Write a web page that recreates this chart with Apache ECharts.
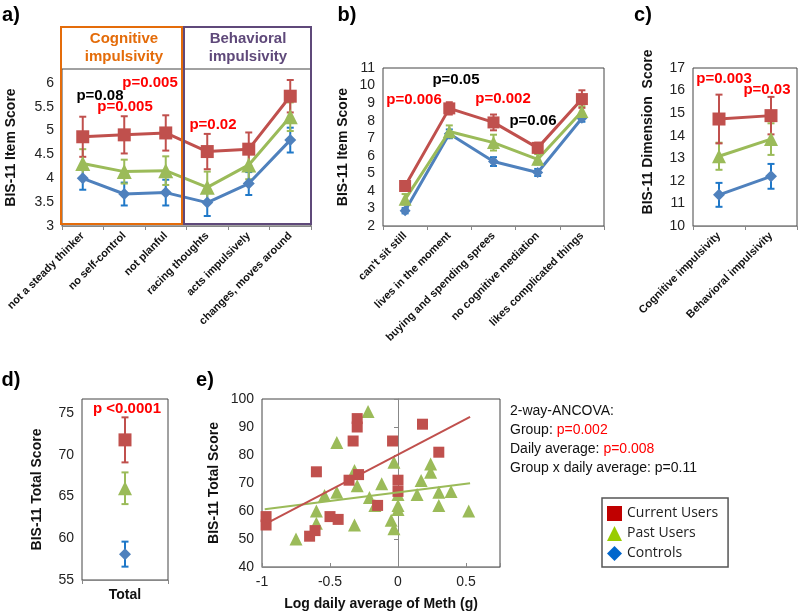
<!DOCTYPE html>
<html>
<head>
<meta charset="utf-8">
<script src="https://cdn.jsdelivr.net/npm/echarts@6/dist/echarts.min.js"></script>
<style>
  html, body { margin: 0; padding: 0; background: #fff; }
  #chart { width: 800px; height: 612px; }
</style>
</head>
<body>
<div id="chart"></div>
<script>
// panel a - BIS-11 items (cognitive / behavioral)
const catsA = ['not a steady thinker', 'no self-control', 'not planful', 'racing thoughts', 'acts impulsively', 'changes, moves around'];
const curA = [4.87, 4.91, 4.95, 4.56, 4.61, 5.72];
const curAErr = [0.42, 0.39, 0.37, 0.37, 0.35, 0.34];
const pastA = [4.31, 4.14, 4.16, 3.81, 4.28, 5.29];
const pastAErr = [0.30, 0.25, 0.30, 0.33, 0.30, 0.30];
const ctrlA = [4.00, 3.67, 3.70, 3.49, 3.89, 4.80];
const ctrlAErr = [0.24, 0.24, 0.27, 0.28, 0.24, 0.26];

// panel b - other items
const catsB = ["can't sit still", 'lives in the moment', 'buying and spending sprees', 'no cognitive mediation', 'likes complicated things'];
const curB = [4.28, 8.70, 7.90, 6.45, 9.23];
const curBErr = [0.20, 0.35, 0.45, 0.30, 0.50];
const pastB = [3.52, 7.38, 6.75, 5.80, 8.52];
const pastBErr = [0.30, 0.35, 0.45, 0.30, 0.30];
const ctrlB = [2.87, 7.25, 5.67, 5.05, 8.14];
const ctrlBErr = [0.15, 0.25, 0.25, 0.20, 0.20];

// panel c - dimension scores
const catsC = ['Cognitive impulsivity', 'Behavioral impulsivity'];
const curC = [14.74, 14.89];
const curCErr = [1.08, 0.83];
const pastC = [13.09, 13.85];
const pastCErr = [0.60, 0.70];
const ctrlC = [11.38, 12.20];
const ctrlCErr = [0.53, 0.55];

// panel d - total score
const catsD = ['Total'];
const curD = [71.8];
const curDErr = [2.7];
const pastD = [66.0];
const pastDErr = [1.9];
const ctrlD = [58.1];
const ctrlDErr = [1.5];

// panel e - total score vs log daily average of meth
const curE = [
  [-0.97, 58], [-0.97, 55], [-0.60, 74], [-0.65, 51], [-0.61, 53], [-0.50, 58],
  [-0.44, 57], [-0.36, 71], [-0.29, 73], [-0.33, 85], [-0.30, 93], [-0.30, 90],
  [-0.04, 85], [-0.15, 62], [0.00, 71], [0.00, 67], [0.18, 91], [0.30, 81]
];
const pastE = [
  [-0.75, 50], [-0.54, 65.5], [-0.60, 60], [-0.60, 55.6], [-0.45, 84.5], [-0.45, 66.7],
  [-0.32, 55], [-0.32, 74.5], [-0.30, 69], [-0.22, 95.5], [-0.21, 64.8], [-0.17, 62],
  [-0.12, 69.7], [-0.05, 56.7], [-0.03, 53.7], [-0.03, 77.4], [0.00, 65.9], [0.00, 62],
  [0.00, 60.5], [0.14, 65.9], [0.17, 70.9], [0.24, 76.8], [0.24, 73.8], [0.30, 66.7],
  [0.30, 62], [0.39, 67], [0.52, 60]
];
const curFit = [[-0.97, 55.5], [0.53, 93.6]];
const pastFit = [[-0.98, 60.6], [0.53, 69.9]];

const RED = '#C0504D', GREEN = '#9BBB59', BLUE = '#4F81BD';
const BLUE_ERR = '#1F78C8';
const FONT = 'Liberation Sans';

function errorBars(name, idx, means, errs, color, cap) {
  return {
    type: 'custom', name: name, xAxisIndex: idx, yAxisIndex: idx, z: 2,
    data: means.map((m, i) => [i, m - errs[i], m + errs[i]]),
    encode: { x: 0, y: [1, 2] },
    renderItem(params, api) {
      const lo = api.coord([api.value(0), api.value(1)]);
      const hi = api.coord([api.value(0), api.value(2)]);
      const style = { stroke: color, lineWidth: 2 };
      return {
        type: 'group',
        children: [
          { type: 'line', shape: { x1: lo[0], y1: lo[1], x2: hi[0], y2: hi[1] }, style: style },
          { type: 'line', shape: { x1: lo[0] - cap, y1: lo[1], x2: lo[0] + cap, y2: lo[1] }, style: style },
          { type: 'line', shape: { x1: hi[0] - cap, y1: hi[1], x2: hi[0] + cap, y2: hi[1] }, style: style }
        ]
      };
    }
  };
}

function groupLine(name, idx, values, symbol, size, color, z) {
  return {
    type: 'line', name: name, xAxisIndex: idx, yAxisIndex: idx, data: values,
    symbol: symbol, symbolSize: size, z: z,
    lineStyle: { color: color, width: 3 },
    itemStyle: { color: color, opacity: 1 }
  };
}

// one panel of three groups with error bars
function panelSeries(idx, cur, curErr, past, pastErr, ctrl, ctrlErr, sizes) {
  return [
    errorBars('Controls', idx, ctrl, ctrlErr, BLUE_ERR, 3.5),
    groupLine('Controls', idx, ctrl, 'diamond', sizes[2], BLUE, 3),
    errorBars('Past Users', idx, past, pastErr, GREEN, 3.5),
    groupLine('Past Users', idx, past, 'triangle', sizes[1], GREEN, 4),
    errorBars('Current Users', idx, cur, curErr, RED, 3.5),
    groupLine('Current Users', idx, cur, 'rect', sizes[0], RED, 5)
  ];
}

function catAxis(idx, cats, rotate, labelSize) {
  return {
    type: 'category', gridIndex: idx, data: cats,
    axisLine: { show: true, lineStyle: { color: '#888', width: 1 } },
    axisTick: { show: true, length: 4, lineStyle: { color: '#888' } },
    axisLabel: {
      interval: 0, rotate: rotate, margin: 8, color: '#111',
      fontFamily: FONT, fontWeight: 'bold', fontSize: labelSize
    },
    splitLine: { show: false }
  };
}

function valAxis(idx, min, max, interval, name, gap, step) {
  return {
    type: 'value', gridIndex: idx, min: min, max: max, interval: interval,
    name: name, nameLocation: 'middle', nameGap: gap, nameRotate: 90,
    nameTextStyle: { fontFamily: FONT, fontWeight: 'bold', fontSize: 14, color: '#111' },
    axisLine: { show: false, onZero: false },
    axisTick: { show: false },
    splitLine: { show: false },
    axisLabel: {
      color: '#222', fontFamily: FONT, fontSize: 14, margin: 8,
      formatter: v => Math.abs(v / step - Math.round(v / step)) < 1e-6 ? String(v) : ''
    }
  };
}

function txt(text, x, y, color, font, align) {
  return {
    type: 'text', z: 50,
    style: {
      text: text, x: x, y: y, fill: color, font: font,
      textAlign: align || 'center', textVerticalAlign: 'middle',
      align: align || 'center', verticalAlign: 'middle'
    }
  };
}

const PFONT = 'bold 15px "Liberation Sans"';
const LFONT = 'bold 20px "Liberation Sans"';
const HFONT = 'bold 15px "Liberation Sans"';

const chart = echarts.init(document.getElementById('chart'));

const gridStyle = { show: true, borderColor: '#444', borderWidth: 1, backgroundColor: 'transparent' };

const option = {
  animation: false,
  backgroundColor: '#fff',
  grid: [
    Object.assign({ left: 62, top: 69, width: 249, height: 157 }, gridStyle),
    Object.assign({ left: 383, top: 68, width: 221, height: 158 }, gridStyle),
    Object.assign({ left: 693, top: 68, width: 104, height: 158 }, gridStyle),
    Object.assign({ left: 82, top: 399, width: 86, height: 181 }, gridStyle),
    Object.assign({ left: 262, top: 399, width: 238, height: 168 }, gridStyle)
  ],
  xAxis: [
    catAxis(0, catsA, 45, 11),
    catAxis(1, catsB, 45, 11),
    catAxis(2, catsC, 45, 11),
    catAxis(3, catsD, 0, 14),
    {
      type: 'value', gridIndex: 4, min: -1, max: 0.75, interval: 0.5,
      name: 'Log daily average of Meth (g)', nameLocation: 'middle', nameGap: 30,
      nameTextStyle: { fontFamily: FONT, fontWeight: 'bold', fontSize: 14, color: '#111' },
      axisLine: { show: true, onZero: false, lineStyle: { color: '#888' } },
      axisTick: { show: true, inside: true, length: 4, lineStyle: { color: '#888' } },
      splitLine: { show: false },
      axisLabel: {
        color: '#222', fontFamily: FONT, fontSize: 14, margin: 8,
        formatter: v => Math.abs(v * 2 - Math.round(v * 2)) < 1e-6 ? String(v) : ''
      }
    }
  ],
  yAxis: [
    valAxis(0, 3, 6.29, 0.5, 'BIS-11 Item Score', 44, 0.5),
    valAxis(1, 2, 11, 1, 'BIS-11 Item Score', 33, 1),
    valAxis(2, 10, 17, 1, '', 37, 1),
    valAxis(3, 55, 76.7, 5, 'BIS-11 Total Score', 38, 5),
    valAxis(4, 40, 100, 10, 'BIS-11 Total Score', 41, 10),
    {
      type: 'value', gridIndex: 4, min: 40, max: 100, interval: 10, position: 'left',
      axisLine: { show: true, onZero: true, lineStyle: { color: '#888' } },
      axisTick: { show: true, length: 4, lineStyle: { color: '#888' } },
      axisLabel: { show: false },
      splitLine: { show: false }
    }
  ],
  legend: {
    orient: 'vertical', left: 602, top: 498,
    data: [
      { name: 'Current Users', icon: 'rect', itemStyle: { color: '#C00000' } },
      { name: 'Past Users', icon: 'triangle', itemStyle: { color: '#99CC00' } },
      { name: 'Controls', icon: 'diamond', itemStyle: { color: '#0066CC' } }
    ],
    itemWidth: 15, itemHeight: 15, itemGap: 5,
    textStyle: { fontFamily: 'Open Sans', fontSize: 14, color: '#222' },
    borderColor: '#555', borderWidth: 1.5, padding: [8, 10, 6, 5],
    backgroundColor: '#fff', selectedMode: false
  },
  series: [].concat(
    panelSeries(0, curA, curAErr, pastA, pastAErr, ctrlA, ctrlAErr, [13, 15, 12]),
    panelSeries(1, curB, curBErr, pastB, pastBErr, ctrlB, ctrlBErr, [12, 13, 11]),
    panelSeries(2, curC, curCErr, pastC, pastCErr, ctrlC, ctrlCErr, [13, 14, 12]),
    panelSeries(3, curD, curDErr, pastD, pastDErr, ctrlD, ctrlDErr, [13, 14, 12]),
    [
      {
        type: 'scatter', name: 'Past Users', xAxisIndex: 4, yAxisIndex: 4, data: pastE,
        symbol: 'triangle', symbolSize: 13, itemStyle: { color: GREEN, opacity: 1 }, z: 3
      },
      {
        type: 'scatter', name: 'Current Users', xAxisIndex: 4, yAxisIndex: 4, data: curE,
        symbol: 'rect', symbolSize: 11, itemStyle: { color: RED, opacity: 1 }, z: 4
      },
      {
        type: 'line', name: 'Past Users', xAxisIndex: 4, yAxisIndex: 4, data: pastFit,
        symbol: 'none', lineStyle: { color: GREEN, width: 2 }, z: 5
      },
      {
        type: 'line', name: 'Current Users', xAxisIndex: 4, yAxisIndex: 4, data: curFit,
        symbol: 'none', lineStyle: { color: RED, width: 2 }, z: 5
      }
    ]
  ),
  graphic: [
    // panel letters
    txt('a)', 11, 15, '#000', LFONT),
    txt('b)', 347, 15, '#000', LFONT),
    txt('c)', 643, 15, '#000', LFONT),
    txt('d)', 11, 380, '#000', LFONT),
    txt('e)', 205, 380, '#000', LFONT),
    // panel c axis title sits above the middle of its axis
    {
      type: 'text', z: 50, x: 648, y: 132, rotation: Math.PI / 2,
      style: {
        text: 'BIS-11 Dimension  Score', fill: '#111', font: 'bold 14px "Liberation Sans"',
        textAlign: 'center', textVerticalAlign: 'middle', align: 'center', verticalAlign: 'middle'
      }
    },
    // cognitive / behavioral boxes
    { type: 'rect', z: 40, shape: { x: 61, y: 27, width: 121, height: 197 },
      style: { fill: 'none', stroke: '#E46C0A', lineWidth: 2 } },
    { type: 'rect', z: 40, shape: { x: 184, y: 27, width: 127, height: 197 },
      style: { fill: 'none', stroke: '#5F497A', lineWidth: 2 } },
    txt('Cognitive', 124, 39, '#E46C0A', HFONT),
    txt('impulsivity', 124, 57, '#E46C0A', HFONT),
    txt('Behavioral', 248, 39, '#5F497A', HFONT),
    txt('impulsivity', 248, 57, '#5F497A', HFONT),
    // p values
    txt('p=0.08', 100, 96, '#000', PFONT),
    txt('p=0.005', 150, 83, '#FF0000', PFONT),
    txt('p=0.005', 125, 107, '#FF0000', PFONT),
    txt('p=0.02', 213, 125, '#FF0000', PFONT),
    txt('p=0.05', 456, 80, '#000', PFONT),
    txt('p=0.006', 414, 100, '#FF0000', PFONT),
    txt('p=0.002', 503, 99, '#FF0000', PFONT),
    txt('p=0.06', 533, 121, '#000', PFONT),
    txt('p=0.003', 724, 79, '#FF0000', PFONT),
    txt('p=0.03', 767, 90, '#FF0000', PFONT),
    txt('p <0.0001', 127, 409, '#FF0000', PFONT),
    // ANCOVA summary
    {
      type: 'text', z: 50,
      style: {
        x: 510, y: 402,
        text: '2-way-ANCOVA:\nGroup: {r|p=0.002}\nDaily average: {r|p=0.008}\nGroup x daily average: p=0.11',
        font: '14px "Liberation Sans"', fill: '#111', lineHeight: 19,
        rich: { r: { fill: '#FF0000', color: '#FF0000', font: '14px "Liberation Sans"', lineHeight: 19 } }
      }
    }
  ]
};

chart.setOption(option);
window.addEventListener('resize', chart.resize);
</script>
</body>
</html>
